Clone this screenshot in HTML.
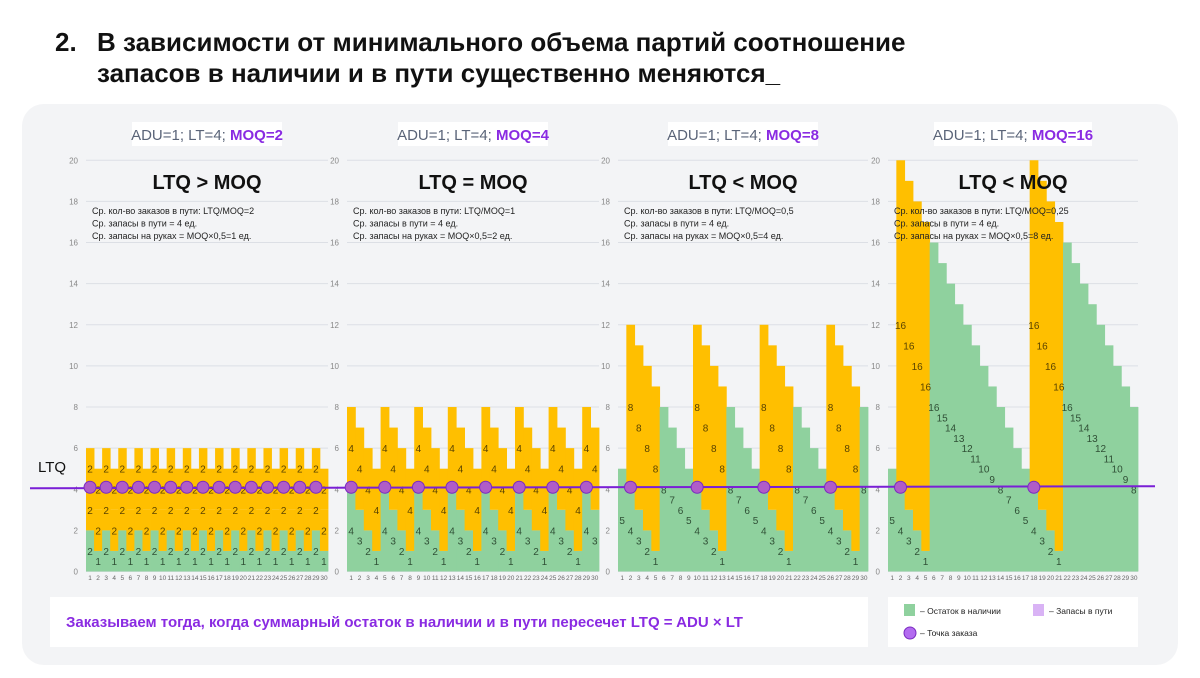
<!DOCTYPE html>
<html><head><meta charset="utf-8">
<style>
body{margin:0;width:1200px;height:678px;background:#fff;font-family:"Liberation Sans",sans-serif;overflow:hidden;position:relative}
.h{position:absolute;font-weight:bold;font-size:26px;color:#111;line-height:31px}
</style></head><body>
<div class="h" style="left:55px;top:27px">2.</div>
<div class="h" style="left:97px;top:27px">В зависимости от минимального объема партий соотношение<br>запасов в наличии и в пути существенно меняются_</div>
<svg width="1200" height="678" style="position:absolute;left:0;top:0" id="chart">
<rect x="22" y="104" width="1156" height="561" rx="22" fill="#f3f4f6"/>
<rect x="50" y="597" width="818" height="50" fill="#fff"/>
<text x="66" y="627" font-size="15" font-weight="bold" fill="#8a2be2">Заказываем тогда, когда суммарный остаток в наличии и в пути пересечет LTQ = ADU × LT</text>
<g>
<rect x="888" y="597" width="250" height="50" fill="#fff"/>
<rect x="904" y="604" width="11" height="12" fill="#8fd19e"/>
<text x="920" y="614" font-size="8.5" fill="#222">– Остаток в наличии</text>
<rect x="1033" y="604" width="11" height="12" fill="#d9b3f5"/>
<text x="1049" y="614" font-size="8.5" fill="#222">– Запасы в пути</text>
<circle cx="910" cy="633" r="6" fill="#b36bf0" stroke="#7a2bc0"/>
<text x="920" y="636" font-size="8.5" fill="#222">– Точка заказа</text>
</g>
<text x="38" y="472" font-size="15" fill="#111">LTQ</text>
<g id="plots"></g>
</svg>
<script>
const days=[...Array(30)].map((_,i)=>i+1);
const yTicks=[0,2,4,6,8,10,12,14,16,18,20];
const moqs=[2,4,8,16];
const headings=["LTQ > MOQ","LTQ = MOQ","LTQ < MOQ","LTQ < MOQ"];
const desc1=["LTQ/MOQ=2","LTQ/MOQ=1","LTQ/MOQ=0,5","LTQ/MOQ=0,25"];
const desc3=["MOQ×0,5=1 ед.","MOQ×0,5=2 ед.","MOQ×0,5=4 ед.","MOQ×0,5=8 ед."];
const green1=[2,1,2,1,2,1,2,1,2,1,2,1,2,1,2,1,2,1,2,1,2,1,2,1,2,1,2,1,2,1];
const yellowA1=Array(30).fill(2);
const yellowB1=Array(30).fill(2);
const green2=[4,3,2,1,4,3,2,1,4,3,2,1,4,3,2,1,4,3,2,1,4,3,2,1,4,3,2,1,4,3];
const yellow2=Array(30).fill(4);
const green3=[5,4,3,2,1,8,7,6,5,4,3,2,1,8,7,6,5,4,3,2,1,8,7,6,5,4,3,2,1,8];
const yellow3=[0,8,8,8,8,0,0,0,0,8,8,8,8,0,0,0,0,8,8,8,8,0,0,0,0,8,8,8,8,0];
const green4=[5,4,3,2,1,16,15,14,13,12,11,10,9,8,7,6,5,4,3,2,1,16,15,14,13,12,11,10,9,8];
const yellow4=[0,16,16,16,16,0,0,0,0,0,0,0,0,0,0,0,0,16,16,16,16,0,0,0,0,0,0,0,0,0];
const orders1=[1,3,5,7,9,11,13,15,17,19,21,23,25,27,29];
const orders2=[1,5,9,13,17,21,25,29];
const orders3=[2,10,18,26];
const orders4=[2,18];
const ltq=4;
const panels=[
 {x0:86,x1:328,g:green1,ya:yellowA1,yb:yellowB1,o:orders1},
 {x0:347,x1:599,g:green2,ya:yellow2,yb:Array(30).fill(0),o:orders2},
 {x0:618,x1:868,g:green3,ya:yellow3,yb:Array(30).fill(0),o:orders3},
 {x0:888,x1:1138,g:green4,ya:yellow4,yb:Array(30).fill(0),o:orders4}];
const NS="http://www.w3.org/2000/svg";
const root=document.getElementById('plots');
const y=v=>571.5-v*20.56;
function mk(t,a,p){const e=document.createElementNS(NS,t);for(const k in a)e.setAttribute(k,a[k]);(p||root).appendChild(e);return e;}
panels.forEach((P,pi)=>{
 const g=mk('g',{});
 
 
 const bw=(P.x1-P.x0)/30, x=d=>P.x0+(d-1)*bw, cx=(P.x0+P.x1)/2;
 yTicks.forEach(t=>{
  const l=mk('line',{x1:P.x0,x2:P.x1,y1:y(t),y2:y(t),stroke:'#dcdfe5','stroke-width':1},g);
  
  
  const tx=mk('text',{x:P.x0-8,y:y(t)+3,'font-size':8,fill:'#888','text-anchor':'end'},g);tx.textContent=t;
  
  
 });
 const bars=mk('g',{},g);
 days.forEach((d,i)=>{
  const segs=[[P.g[i],'#8fd19e','#2f4f35'],[P.ya[i],'#ffbf00','#5a4300'],[P.yb[i],'#ffbf00','#5a4300']];
  let base=0;
  segs.forEach(([v,c,tc],si)=>{
   if(!v)return;
   const r=mk('rect',{x:x(d),y:y(base+v),width:bw+0.4,height:y(base)-y(base+v),fill:c},bars);
   
   
   const lt=mk('text',{x:x(d)+bw/2,y:y(base+v/2)+4,'font-size':10,fill:tc,'text-anchor':'middle'},g);lt.textContent=v;
   
   
   base+=v;
  });
  const xl=mk('text',{x:x(d)+bw/2,y:580,'font-size':6.5,fill:'#666','text-anchor':'middle'},g);xl.textContent=d;
  
  
 });
 const hd=mk('text',{x:cx,y:189,'font-size':20,'font-weight':'bold',fill:'#111','text-anchor':'middle'},g);hd.textContent=headings[pi];
 
 
 const lines=["Ср. кол-во заказов в пути: "+desc1[pi],"Ср. запасы в пути = 4 ед.","Ср. запасы на руках = "+desc3[pi]];
 lines.forEach((s,i)=>{const t=mk('text',{x:P.x0+6,y:214+i*12.5,'font-size':9,fill:'#222'},g);t.textContent=s;
  
  });
 const tw=moqs[pi]>9?150:142;
 const bg=mk('rect',{x:cx-tw/2-4,y:122,width:tw+8,height:24,fill:'#fff'},g);
 
 
 const st=mk('text',{x:cx,y:140,'font-size':15,'text-anchor':'middle',fill:'#5a6478'},g);
 
 
 st.innerHTML='ADU=1; LT=4; <tspan fill="#8a2be2" font-weight="bold">MOQ='+moqs[pi]+'</tspan>';
 P._x=x;P._bw=bw;
});
const ln=mk('line',{x1:30,x2:1155,y1:y(ltq)-1,y2:y(ltq)-3,stroke:'#7a1fd6','stroke-width':2});


panels.forEach(P=>{
 P.o.forEach(d=>{
  const c=mk('circle',{cx:P._x(d)+P._bw/2,cy:y(ltq)-2,r:6,fill:'#b05cc8',stroke:'#7a2bc0','stroke-width':1});
  
  
 });
});
</script>
</body></html>
